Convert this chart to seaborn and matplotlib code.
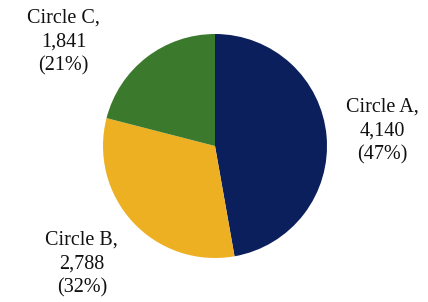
import matplotlib
matplotlib.use("Agg")
import matplotlib.pyplot as plt
import numpy as np
import seaborn as sns

# data
circles = ["Circle A", "Circle B", "Circle C"]
counts = [4140, 2788, 1841]
colors = ["#0b1f5c", "#eeb023", "#3b7a2c"]
# label placement (distance in radii, angle in degrees)
label_dist = [1.50, 1.59, 1.64]
label_angle = [5.1, -138.4, 145.6]

sns.set_theme(style="white")
plt.rcParams["font.family"] = ["Liberation Serif", "DejaVu Serif"]

fig = plt.figure(figsize=(4.28, 3.02), dpi=100)
ax = fig.add_axes([0, 0, 1, 1])

wedges, _ = ax.pie(counts, colors=colors, startangle=90, counterclock=False,
                   radius=1.0, wedgeprops=dict(linewidth=0))

total = sum(counts)
for name, n, d, a in zip(circles, counts, label_dist, label_angle):
    pct = round(100 * n / total)
    t = np.deg2rad(a)
    ax.text(d * np.cos(t), d * np.sin(t), f"{name},\n{n:,}\n({pct}%)",
            ha="center", va="center", fontsize=14.5, linespacing=1.35,
            color="#111111")

ax.set_xlim(-215 / 112, (428 - 215) / 112)
ax.set_ylim((146 - 302) / 112, 146 / 112)
ax.axis("off")

fig.savefig("out.png", dpi=100)
